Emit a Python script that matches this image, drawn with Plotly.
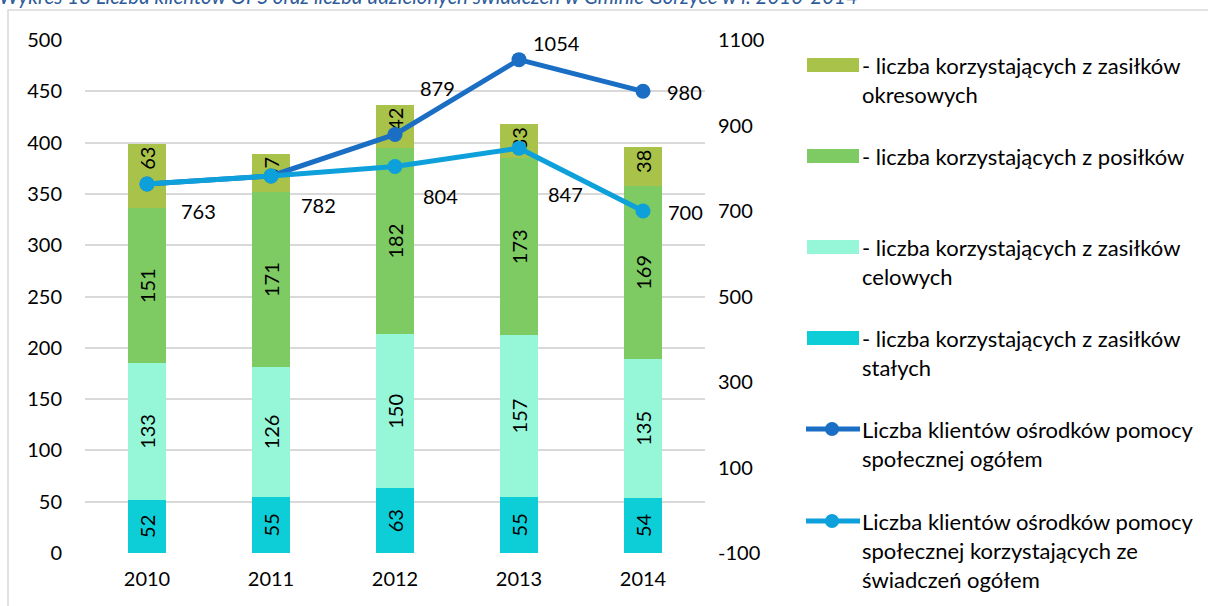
import plotly.graph_objects as go

years = ["2010", "2011", "2012", "2013", "2014"]
stale = [52, 55, 63, 55, 54]
celowe = [133, 126, 150, 157, 135]
posilki = [151, 171, 182, 173, 169]
okresowe = [63, 37, 42, 33, 38]
klienci_ogolem = [763, 782, 879, 1054, 980]
klienci_swiadczenia = [763, 782, 804, 847, 700]
y2_ticks = [-100, 100, 300, 500, 700, 900, 1100]
y2_ticktext = ["-100", "100", "300", "500", "700", "900", "1100"]

bar_names = [
    "- liczba korzystających z zasiłków stałych",
    "- liczba korzystających z zasiłków celowych",
    "- liczba korzystających z posiłków",
    "- liczba korzystających z zasiłków okresowych",
]
line_names = [
    "Liczba klientów ośrodków pomocy społecznej ogółem",
    "Liczba klientów ośrodków pomocy społecznej korzystających ze świadczeń ogółem",
]
title_text = "Wykres 18 Liczba klientów OPS oraz liczba udzielonych świadczeń w Gminie Gorzyce w l. 2010-2014"

FONT = "Lato"
C_STALE = "#0DCED7"
C_CELOWE = "#96F7D8"
C_POSILKI = "#7DCB62"
C_OKRES = "#A8C24A"
C_DARK = "#1A6EC4"
C_LIGHT = "#0EA0DB"

W, H = 1208, 606
L, R, T, B = 85, 705, 40, 553


def px(x):
    return (x - L) / (R - L)


def py(y):
    return (B - y) / (B - T)


fig = go.Figure()
for vals, name, col, anchor in [(stale, bar_names[0], C_STALE, "middle"),
                                (celowe, bar_names[1], C_CELOWE, "middle"),
                                (posilki, bar_names[2], C_POSILKI, "middle"),
                                (okresowe, bar_names[3], C_OKRES, "end")]:
    fig.add_trace(go.Bar(
        x=years, y=vals, name=name, marker=dict(color=col, line=dict(width=0)),
        width=0.31, text=[str(v) for v in vals], textposition="inside",
        insidetextanchor=anchor, textangle=-90, constraintext="none",
        textfont=dict(family=FONT, size=20, color="black"), showlegend=False,
    ))

fig.add_trace(go.Scatter(
    x=years, y=klienci_ogolem, yaxis="y2", mode="lines+markers", name=line_names[0],
    line=dict(color=C_DARK, width=5), marker=dict(size=15, color=C_DARK), showlegend=False,
    cliponaxis=False,
))
fig.add_trace(go.Scatter(
    x=years, y=klienci_swiadczenia, yaxis="y2", mode="lines+markers", name=line_names[1],
    line=dict(color=C_LIGHT, width=5), marker=dict(size=15, color=C_LIGHT), showlegend=False,
    cliponaxis=False,
))

annotations = []
# data labels for lines (offsets in pixels); x given as category index on the category axis
dark_offsets = [None, None, (42, 46), (37, 17), (41, -1)]
light_offsets = [(51, -27), (47, -29), (45, -29), (46, -46), (42, -1)]
for i, yr in enumerate(years):
    if dark_offsets[i] is not None:
        dx, dy = dark_offsets[i]
        annotations.append(dict(x=i, y=klienci_ogolem[i], xref="x", yref="y2",
                                text=str(klienci_ogolem[i]), showarrow=False, xshift=dx, yshift=dy,
                                font=dict(family=FONT, size=20, color="black")))
    dx, dy = light_offsets[i]
    annotations.append(dict(x=i, y=klienci_swiadczenia[i], xref="x", yref="y2",
                            text=str(klienci_swiadczenia[i]), showarrow=False, xshift=dx, yshift=dy,
                            font=dict(family=FONT, size=20, color="black")))

# title (clipped at top as in the reference)
annotations.append(dict(x=px(-3), y=py(-4), xref="paper", yref="paper", text=title_text,
                        showarrow=False, xanchor="left", yanchor="middle",
                        font=dict(family=FONT, size=20.5, color="#2E5C9A", style="italic")))

# custom legend
shapes = []
shapes.append(dict(type="rect", xref="paper", yref="paper", x0=px(8), x1=px(W + 20), y0=py(10),
                   y1=py(H + 20), line=dict(color="#D9D9D9", width=1.5), fillcolor="rgba(0,0,0,0)",
                   layer="below"))

legend_items = [
    ("bar", C_OKRES, ["- liczba korzystających z zasiłków", "okresowych"], 65),
    ("bar", C_POSILKI, ["- liczba korzystających z posiłków"], 156),
    ("bar", C_CELOWE, ["- liczba korzystających z zasiłków", "celowych"], 247),
    ("bar", C_STALE, ["- liczba korzystających z zasiłków", "stałych"], 338),
    ("line", C_DARK, ["Liczba klientów ośrodków pomocy", "społecznej ogółem"], 429),
    ("line", C_LIGHT, ["Liczba klientów ośrodków pomocy", "społecznej korzystających ze", "świadczeń ogółem"], 521),
]
for kind, col, lines, yc in legend_items:
    if kind == "bar":
        shapes.append(dict(type="rect", xref="paper", yref="paper", x0=px(807), x1=px(859),
                           y0=py(yc - 7), y1=py(yc + 7), fillcolor=col, line=dict(width=0)))
    else:
        shapes.append(dict(type="line", xref="paper", yref="paper", x0=px(806), x1=px(860),
                           y0=py(yc), y1=py(yc), line=dict(color=col, width=5)))
        shapes.append(dict(type="circle", xref="paper", yref="paper", x0=px(825), x1=px(839),
                           y0=py(yc - 7), y1=py(yc + 7), fillcolor=col, line=dict(width=0)))
    for j, t in enumerate(lines):
        annotations.append(dict(x=px(860), y=py(yc + 29 * j), xref="paper", yref="paper", text=t,
                                showarrow=False, xanchor="left", yanchor="middle",
                                font=dict(family=FONT, size=22, color="black")))

fig.update_layout(
    width=W, height=H, barmode="stack",
    margin=dict(l=L, r=W - R, t=T, b=H - B, pad=0, autoexpand=False),
    plot_bgcolor="white", paper_bgcolor="white",
    font=dict(family=FONT, size=20, color="black"),
    xaxis=dict(type="category", categoryorder="array", categoryarray=years, range=[-0.5, 4.5],
               autorange=False, showgrid=False, showline=False, zeroline=False,
               ticks="outside", ticklen=8, tickcolor="rgba(0,0,0,0)", automargin=False,
               tickfont=dict(family=FONT, size=20, color="black")),
    yaxis=dict(range=[0, 500], dtick=50, tick0=0, showgrid=True, gridcolor="#D9D9D9", gridwidth=2,
               zeroline=False, showline=False, ticks="", ticklabelstandoff=22, automargin=False,
               tickfont=dict(family=FONT, size=20, color="black")),
    yaxis2=dict(range=[-100, 1100], tickvals=y2_ticks, ticktext=y2_ticktext, overlaying="y",
                side="right", showgrid=False, zeroline=False, showline=False, ticks="",
                ticklabelstandoff=12, automargin=False,
                tickfont=dict(family=FONT, size=20, color="black")),
    annotations=annotations, shapes=shapes, showlegend=False,
)

fig.write_html("out.html", config={"displayModeBar": False},
               post_script="document.body.style.margin='0px';")
